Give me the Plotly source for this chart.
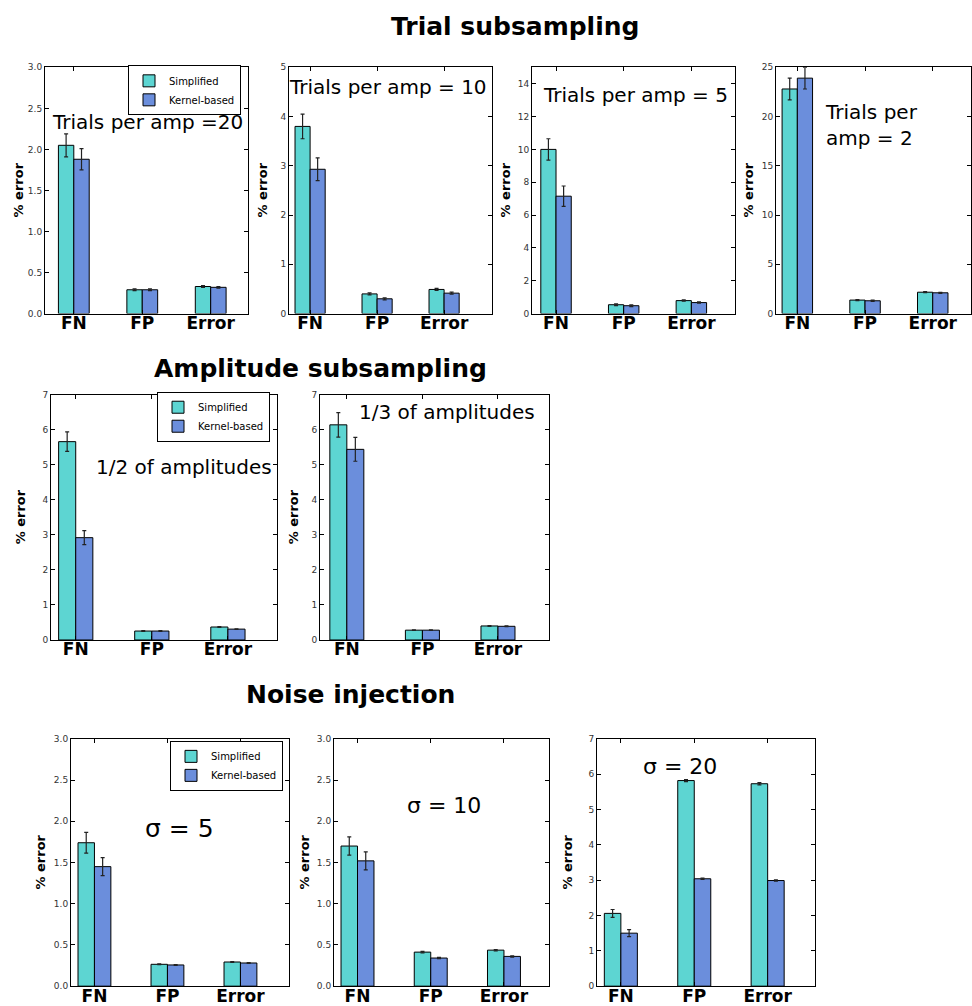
import plotly.graph_objects as go

W, H = 972, 1006

categories = ["FN", "FP", "Error"]
series_names = ["Simplified", "Kernel-based"]

# Trial subsampling
t20_simplified = [2.05, 0.29, 0.33]
t20_simplified_err = [0.14, 0.01, 0.01]
t20_kernel = [1.88, 0.29, 0.32]
t20_kernel_err = [0.13, 0.01, 0.01]

t10_simplified = [3.80, 0.40, 0.49]
t10_simplified_err = [0.25, 0.02, 0.02]
t10_kernel = [2.93, 0.30, 0.415]
t10_kernel_err = [0.23, 0.02, 0.02]

t5_simplified = [10.0, 0.54, 0.79]
t5_simplified_err = [0.65, 0.05, 0.04]
t5_kernel = [7.15, 0.48, 0.67]
t5_kernel_err = [0.62, 0.05, 0.04]

t2_simplified = [22.8, 1.37, 2.17]
t2_simplified_err = [1.1, 0.06, 0.05]
t2_kernel = [23.9, 1.30, 2.11]
t2_kernel_err = [1.1, 0.06, 0.05]

# Amplitude subsampling
a2_simplified = [5.66, 0.255, 0.37]
a2_simplified_err = [0.28, 0.01, 0.01]
a2_kernel = [2.92, 0.255, 0.31]
a2_kernel_err = [0.20, 0.01, 0.01]

a3_simplified = [6.14, 0.28, 0.40]
a3_simplified_err = [0.35, 0.01, 0.01]
a3_kernel = [5.44, 0.28, 0.39]
a3_kernel_err = [0.34, 0.01, 0.01]

# Noise injection
n5_simplified = [1.74, 0.265, 0.293]
n5_simplified_err = [0.125, 0.005, 0.005]
n5_kernel = [1.45, 0.257, 0.281]
n5_kernel_err = [0.11, 0.005, 0.005]

n10_simplified = [1.70, 0.413, 0.437]
n10_simplified_err = [0.11, 0.008, 0.008]
n10_kernel = [1.52, 0.341, 0.361]
n10_kernel_err = [0.11, 0.008, 0.008]

n20_simplified = [2.06, 5.82, 5.73]
n20_simplified_err = [0.11, 0.03, 0.03]
n20_kernel = [1.50, 3.04, 2.99]
n20_kernel_err = [0.10, 0.02, 0.02]

panel_titles = ["Trials per amp =20", "Trials per amp = 10", "Trials per amp = 5",
                "Trials per<br>amp = 2", "1/2 of amplitudes", "1/3 of amplitudes",
                "σ = 5", "σ = 10", "σ = 20"]
section_titles = ["Trial subsampling", "Amplitude subsampling", "Noise injection"]

COL_S = "#5dd5d2"
COL_K = "#6b8edc"
BW = 0.225

panels = [
    dict(s=t20_simplified, se=t20_simplified_err, k=t20_kernel, ke=t20_kernel_err,
         box=(45, 248, 63, 312), xr=[-0.196, 2.77], yr=[0, 3], dt=0.5, fmt=".1f",
         lab=(18,), txt=(147.5, 118, 20, "center"), legend="legend"),
    dict(s=t10_simplified, se=t10_simplified_err, k=t10_kernel, ke=t10_kernel_err,
         box=(289, 492, 63, 312), xr=[-0.09, 2.94], yr=[0, 5], dt=1, fmt="d",
         lab=(262,), txt=(388, 83, 20, "center")),
    dict(s=t5_simplified, se=t5_simplified_err, k=t5_kernel, ke=t5_kernel_err,
         box=(532, 735, 63, 312), xr=[-0.13, 2.87], yr=[0, 15], dt=2, fmt="d",
         lab=(505,), txt=(635, 91, 20, "center")),
    dict(s=t2_simplified, se=t2_simplified_err, k=t2_kernel, ke=t2_kernel_err,
         box=(776, 971, 63, 312), xr=[-0.09, 2.79], yr=[0, 25], dt=5, fmt="d",
         lab=(748,), txt=(823, 121, 20, "left")),
    dict(s=a2_simplified, se=a2_simplified_err, k=a2_kernel, ke=a2_kernel_err,
         box=(51, 277, 394, 642), xr=[-0.1, 2.87], yr=[0, 7], dt=1, fmt="d",
         lab=(20,), txt=(183.5, 467, 20, "center"), legend="legend2"),
    dict(s=a3_simplified, se=a3_simplified_err, k=a3_kernel, ke=a3_kernel_err,
         box=(320, 549, 394, 642), xr=[-0.13, 2.9], yr=[0, 7], dt=1, fmt="d",
         lab=(293,), txt=(446.5, 412, 20, "center")),
    dict(s=n5_simplified, se=n5_simplified_err, k=n5_kernel, ke=n5_kernel_err,
         box=(71, 289, 742, 992), xr=[-0.096, 2.89], yr=[0, 3], dt=0.5, fmt=".1f",
         lab=(41,), txt=(179.5, 833, 25, "center"), legend="legend3"),
    dict(s=n10_simplified, se=n10_simplified_err, k=n10_kernel, ke=n10_kernel_err,
         box=(334, 549, 742, 992), xr=[-0.096, 2.84], yr=[0, 3], dt=0.5, fmt=".1f",
         lab=(305,), txt=(443.5, 809, 22, "center")),
    dict(s=n20_simplified, se=n20_simplified_err, k=n20_kernel, ke=n20_kernel_err,
         box=(597, 815, 742, 992), xr=[-0.1, 2.87], yr=[0, 7], dt=1, fmt="d",
         lab=(568,), txt=(679.5, 770, 22, "center")),
]

fig = go.Figure()
annotations = []
layout = {}
FONT = "DejaVu Sans"
idx = list(range(len(categories)))

for i, p in enumerate(panels):
    n = i + 1
    xa = "x" if n == 1 else f"x{n}"
    ya = "y" if n == 1 else f"y{n}"
    leg = p.get("legend")
    for vals, errs, name, col, off in [(p["s"], p["se"], series_names[0], COL_S, 0.5),
                                       (p["k"], p["ke"], series_names[1], COL_K, 1.5)]:
        fig.add_trace(go.Bar(
            x=[j + off * BW for j in idx], y=vals, width=BW, name=name,
            marker=dict(color=col, line=dict(color="black", width=1)),
            error_y=dict(type="data", array=errs, color="#222", thickness=1.2, width=2),
            xaxis=xa, yaxis=ya, showlegend=leg is not None,
            legend=leg if leg else "legend",
        ))
    x0, x1, y0, y1 = p["box"]
    common = dict(showline=True, linecolor="black", linewidth=1, mirror="ticks",
                  ticks="inside", tickcolor="black", ticklen=4, showgrid=False,
                  zeroline=False)
    layout[f"xaxis{'' if n == 1 else n}"] = dict(
        domain=[x0 / W, x1 / W], anchor=ya, range=p["xr"],
        tickvals=[j + BW for j in idx], ticktext=categories,
        tickfont=dict(family=FONT, size=17, color="black", weight="bold"),
        ticklabelstandoff=-6,
        **common)
    layout[f"yaxis{'' if n == 1 else n}"] = dict(
        domain=[1 - y1 / H, 1 - y0 / H], anchor=xa, range=p["yr"], dtick=p["dt"],
        tick0=0, tickformat=p["fmt"],
        tickfont=dict(family=FONT, size=9, color="#333"),
        **common)
    annotations.append(dict(
        x=p["lab"][0] / W, y=1 - (y0 + y1) / 2 / H, xref="paper", yref="paper",
        text="<b>% error</b>", textangle=-90, showarrow=False,
        font=dict(family=FONT, size=13, color="black"), xanchor="center", yanchor="middle"))
    tx, ty, fs, al = p["txt"]
    annotations.append(dict(
        x=tx / W, y=1 - ty / H, xref="paper", yref="paper", text=panel_titles[i],
        showarrow=False, font=dict(family=FONT, size=fs, color="black"),
        xanchor=al, yanchor="middle", align=al))

for t, (cx, cy, fs) in zip(section_titles, [(515, 22, 25), (320, 368, 25), (350, 697, 25)]):
    annotations.append(dict(
        x=cx / W, y=1 - cy / H, xref="paper", yref="paper", text=f"<b>{t}</b>",
        showarrow=False, font=dict(family=FONT, size=fs, color="black"),
        xanchor="center", yanchor="middle"))

def legend_box(x, y):
    return dict(x=x / W, y=1 - y / H, xanchor="left", yanchor="top",
                bordercolor="black", borderwidth=1, bgcolor="white",
                font=dict(family=FONT, size=10, color="black"),
                itemwidth=30, tracegroupgap=0)

fig.update_layout(
    width=W, height=H, margin=dict(l=0, r=0, t=0, b=0),
    paper_bgcolor="white", plot_bgcolor="white", barmode="overlay",
    font=dict(family=FONT),
    annotations=annotations,
    legend=legend_box(128, 61),
    legend2=legend_box(157, 391),
    legend3=legend_box(170, 744),
    **layout,
)

fig.write_html("out.html")
